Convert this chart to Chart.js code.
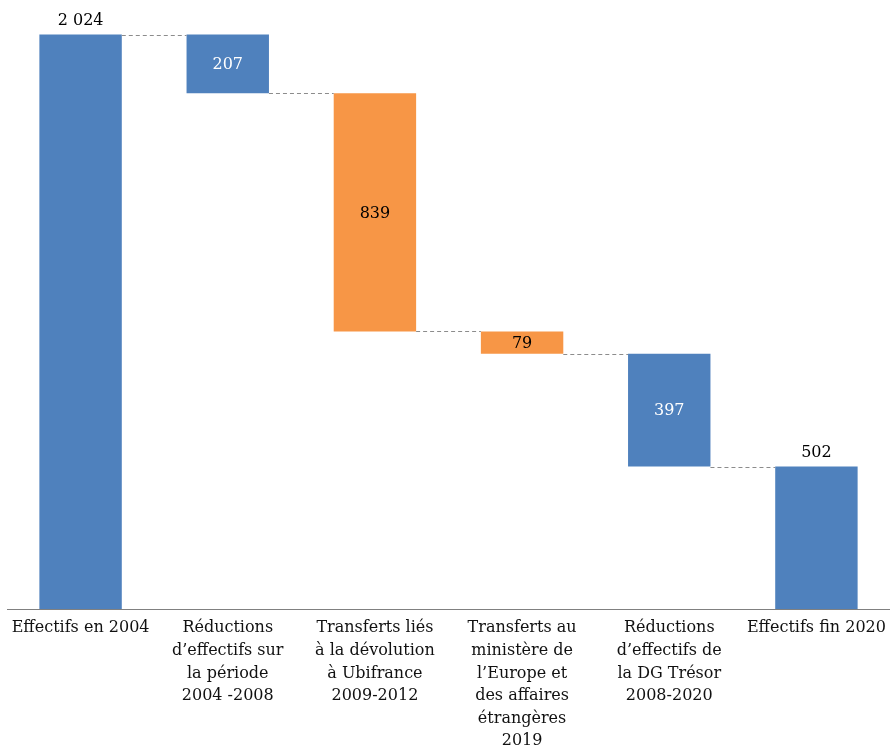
<!DOCTYPE html>
<html>
<head>
<meta charset="utf-8">
<script src="https://cdn.jsdelivr.net/npm/chart.js@4/dist/chart.umd.min.js"></script>
<style>
  html, body { margin: 0; padding: 0; background: #fff; overflow: hidden; }
  canvas { display: block; }
</style>
</head>
<body>
<canvas id="c" width="890" height="751"></canvas>
<script>
// Catégories (libellés sur plusieurs lignes)
const categories = [
  ["Effectifs en 2004"],
  ["Réductions", "d’effectifs sur", "la période", "2004 -2008"],
  ["Transferts liés", "à la dévolution", "à Ubifrance", "2009-2012"],
  ["Transferts au", "ministère de", "l’Europe et", "des affaires", "étrangères", "2019"],
  ["Réductions", "d’effectifs de", "la DG Trésor", "2008-2020"],
  ["Effectifs fin 2020"]
];
// Variations des effectifs (total initial, baisses, total final)
const changes = [2024, -207, -839, -79, -397, 502];
const kinds = ["total", "delta", "delta", "delta", "delta", "total"];
const colorKinds = ["blue", "blue", "orange", "orange", "blue", "blue"];
const valueLabels = ["2 024", "207", "839", "79", "397", "502"];

const palette = { blue: "#4F81BD", orange: "#F79646" };

// Construction des barres flottantes [bas, haut]
const ranges = [];
let level = 0;
changes.forEach((v, i) => {
  if (kinds[i] === "total") {
    ranges.push([0, v]);
    level = v;
  } else {
    const next = level + v;
    ranges.push([Math.min(level, next), Math.max(level, next)]);
    level = next;
  }
});

const serif = "'DejaVu Serif', 'Liberation Serif', serif";

const waterfallDecor = {
  id: "waterfallDecor",
  afterDatasetsDraw(chart) {
    const ctx = chart.ctx;
    const meta = chart.getDatasetMeta(0);
    const y = chart.scales.y;
    ctx.save();
    // Connecteurs pointillés entre barres
    ctx.strokeStyle = "#8c8c8c";
    ctx.lineWidth = 1;
    ctx.setLineDash([4, 3]);
    for (let i = 0; i < meta.data.length - 1; i++) {
      const a = meta.data[i], b = meta.data[i + 1];
      const lvl = kinds[i] === "total" ? ranges[i][1] : ranges[i][0];
      const py = Math.round(y.getPixelForValue(lvl)) + 0.5;
      ctx.beginPath();
      ctx.moveTo(a.x + a.width / 2, py);
      ctx.lineTo(b.x - b.width / 2, py);
      ctx.stroke();
    }
    ctx.setLineDash([]);
    // Étiquettes de valeurs
    ctx.font = "16px " + serif;
    ctx.textAlign = "center";
    ctx.textBaseline = "middle";
    meta.data.forEach((bar, i) => {
      const top = y.getPixelForValue(ranges[i][1]);
      const bot = y.getPixelForValue(ranges[i][0]);
      if (kinds[i] === "total") {
        ctx.fillStyle = "#000";
        ctx.fillText(valueLabels[i], bar.x, top - 14);
      } else {
        ctx.fillStyle = colorKinds[i] === "blue" ? "#ffffff" : "#000";
        ctx.fillText(valueLabels[i], bar.x, (top + bot) / 2 + 1);
      }
    });
    ctx.restore();
  }
};

new Chart(document.getElementById("c"), {
  type: "bar",
  data: {
    labels: categories,
    datasets: [{
      data: ranges,
      backgroundColor: colorKinds.map(k => palette[k]),
      borderWidth: 0,
      borderSkipped: false,
      categoryPercentage: 1,
      barPercentage: 0.56
    }]
  },
  options: {
    responsive: false,
    animation: false,
    devicePixelRatio: 1,
    layout: { autoPadding: false, padding: { left: 7, right: 0, top: 13, bottom: 0 } },
    plugins: { legend: { display: false }, tooltip: { enabled: false } },
    scales: {
      x: {
        grid: { display: false, drawTicks: false },
        border: { display: true, color: "#808080", width: 1 },
        ticks: {
          color: "#111",
          font: { family: serif, size: 16, lineHeight: 1.41 },
          padding: 8,
          maxRotation: 0,
          autoSkip: false
        },
        afterFit(scale) {
          scale.height = 142;
          scale.paddingLeft = 0;
          scale.paddingRight = 0;
        }
      },
      y: {
        display: false,
        min: 0,
        max: 2100
      }
    }
  },
  plugins: [waterfallDecor]
});
</script>
</body>
</html>
